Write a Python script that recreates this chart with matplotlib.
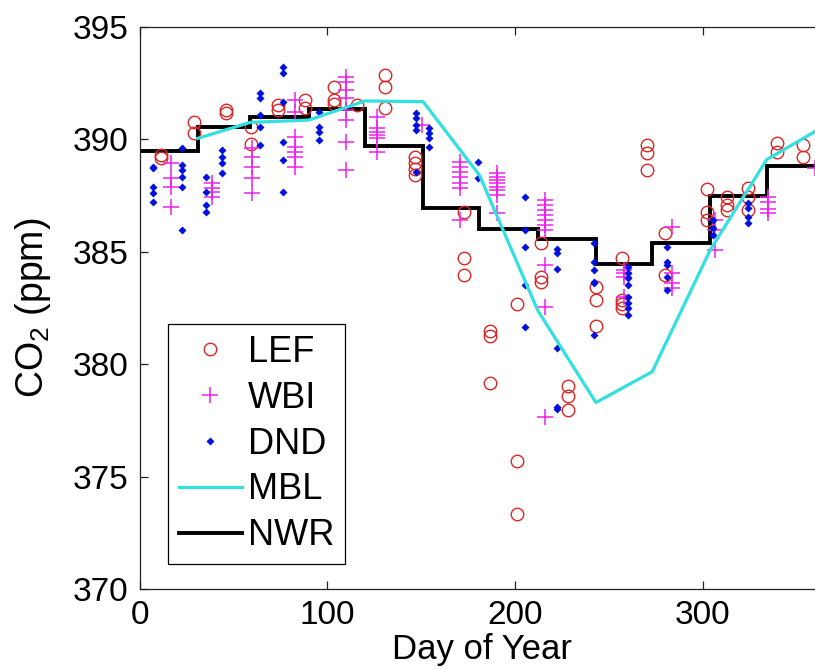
import numpy as np
import matplotlib
matplotlib.use('Agg')
import matplotlib.pyplot as plt

plt.rcParams['font.family'] = ['Liberation Sans', 'DejaVu Sans']
plt.rcParams['mathtext.fontset'] = 'custom'
plt.rcParams['mathtext.rm'] = 'Liberation Sans'

# LEF flask samples (day of year, ppm)
lef_day = [11.4, 11.4, 29.2, 29.2, 45.8, 45.8, 59.2, 59.2, 73.7, 73.7, 88.1, 88.1,
           103.4, 103.4, 103.4, 115.8, 130.7, 130.7, 130.7, 146.5, 146.5, 146.5, 146.5,
           172.8, 172.8, 172.8, 186.6, 186.6, 186.6, 200.8, 200.8, 200.8,
           214, 214, 214, 228, 228, 228, 242.8, 242.8, 242.8,
           256.8, 256.8, 256.8, 256.8, 270.1, 270.1, 270.1, 279.6, 279.6,
           302, 302, 302, 313, 313, 313, 324.2, 324.2, 324.2, 339.3, 339.3, 353.5, 353.5]
lef_co2 = [389.30, 389.15, 390.78, 390.26, 391.30, 391.15, 390.56, 389.80, 391.52, 391.30, 391.74, 391.37,
           392.33, 391.74, 391.55, 391.52, 392.85, 392.33, 391.37, 389.22, 388.93, 388.70, 388.41,
           386.75, 384.71, 383.96, 381.48, 381.25, 379.15, 382.68, 375.69, 373.34,
           385.40, 383.89, 383.67, 379.03, 378.59, 377.97, 383.44, 382.85, 381.71,
           384.71, 382.85, 382.68, 382.48, 389.74, 389.37, 388.63, 385.85, 383.96,
           387.79, 386.78, 386.41, 387.44, 387.08, 386.85, 387.82, 387.44, 386.85, 389.82, 389.44, 389.74, 389.22]

# WBI samples
wbi_day = [16.6] * 4 + [38.8] * 4 + [59.9] * 5 + [82.6] * 7 + [110] * 8 + [126.3] * 6 + [150.5] + \
          [170.4] * 7 + [190.3] * 8 + [215.9] * 10 + [258.2] * 4 + [283.4] * 4 + [306.2] * 3 + \
          [334.7] * 4 + [359.5]
wbi_co2 = [388.93, 388.26, 387.89, 387.00,
           388.04, 387.82, 387.67, 387.44,
           389.60, 389.22, 388.78, 388.26, 387.60,
           391.74, 391.22, 390.11, 389.67, 389.44, 389.22, 388.78,
           392.78, 392.56, 392.19, 391.82, 391.30, 390.85, 389.89, 388.63,
           391.00, 390.48, 390.33, 390.19, 390.04, 389.44,
           390.63,
           389.00, 388.78, 388.56, 388.33, 388.04, 387.82, 386.41,
           388.48, 388.33, 388.19, 388.04, 387.89, 387.74, 387.52, 386.71,
           387.30, 387.08, 386.85, 386.63, 386.41, 386.19, 385.96, 384.41, 382.56, 377.64,
           384.19, 384.04, 383.89, 383.00,
           386.11, 384.04, 383.60, 383.37,
           386.41, 385.96, 385.07,
           387.42, 387.22, 386.88, 386.71,
           388.71]

# DND samples
dnd_day = [7.0] * 5 + [22.6] * 6 + [35.2] * 4 + [44.0] * 4 + [64.0] * 5 + [76.6] * 6 + [95.6] * 4 + \
          [147.2] * 5 + [154.0] * 4 + [180.4] * 2 + [205.1] * 5 + [222.1] * 6 + [242.2] * 6 + \
          [260.3] * 8 + [280.7] * 5 + [305.6] * 3 + [324.2] * 4
dnd_co2 = [388.78, 388.71, 387.89, 387.60, 387.22,
           389.60, 388.85, 388.63, 388.33, 387.89, 385.96,
           388.33, 387.67, 387.08, 386.78,
           389.52, 389.22, 388.93, 388.48,
           392.04, 391.82, 391.08, 390.56, 389.74,
           393.22, 392.93, 391.67, 389.89, 389.08, 387.67,
           391.22, 390.56, 390.33, 389.96,
           391.15, 390.93, 390.63, 390.41, 388.56,
           390.48, 390.26, 390.04, 389.67,
           388.99, 388.26,
           387.44, 385.96, 385.22, 383.52, 381.67,
           385.11, 384.93, 384.22, 380.73, 378.11, 378.00,
           385.37, 384.56, 384.19, 383.67, 383.60, 381.30,
           384.33, 384.04, 383.82, 383.52, 383.00, 382.71, 382.48, 382.19,
           385.22, 384.56, 384.41, 383.89, 383.30,
           386.41, 386.04, 385.74,
           387.15, 386.93, 386.56, 386.26]

# MBL reference curve
mbl_day = [31, 59, 90, 120, 151, 181, 212, 243, 273, 304, 334, 365]
mbl_co2 = [390.04, 390.75, 390.85, 391.70, 391.67, 388.40, 382.40, 378.30, 379.67, 385.10, 389.10, 390.60]

# NWR monthly means
nwr_edges = [0, 31, 59, 90, 120, 151, 181, 212, 243, 273, 304, 334, 365]
nwr_co2 = [389.48, 390.53, 391.00, 391.34, 389.70, 386.93, 386.02, 385.55, 384.44, 385.40, 387.49, 388.82]

fig = plt.figure(figsize=(8.15, 6.7), dpi=100)
ax = fig.add_axes([0.1712, 0.1204, 0.8411, 0.8397])

ax.plot(lef_day, lef_co2, 'o', color='#dd2525', mfc='none', ms=9, mew=1.0, label='LEF')
ax.plot(wbi_day, wbi_co2, '+', color='#ee22ee', ms=11, mew=1.1, label='WBI')
ax.plot(dnd_day, dnd_co2, 'D', color='#0010dd', ms=3.6, mec='none', label='DND')
ax.plot(mbl_day, mbl_co2, '-', color='#33e0e0', lw=2.3, label='MBL')
ax.stairs(nwr_co2, nwr_edges, color='black', lw=2.8, baseline=None, label='NWR')

ax.set_xlim(0, 365)
ax.set_ylim(370, 395)
ax.set_xticks([0, 100, 200, 300])
ax.set_yticks([370, 375, 380, 385, 390, 395])
ax.tick_params(direction='in', top=True, right=True, length=6, width=0.9,
               labelsize=24, pad=8, colors='#222222', labelcolor='black')
for s in ax.spines.values():
    s.set_linewidth(0.9)
    s.set_color('#222222')

ax.set_xlabel('Day of Year', fontsize=25, labelpad=1)
ax.set_ylabel('CO$_2$ (ppm)', fontsize=27, labelpad=14)

leg = ax.legend(loc='upper left', bbox_to_anchor=(0.2061, 0.5164), bbox_transform=fig.transFigure,
                fontsize=26, frameon=True, fancybox=False, framealpha=1, edgecolor='black',
                handlelength=1.75, handletextpad=0.17, labelspacing=0.3, borderpad=0.3,
                borderaxespad=0)
leg.get_frame().set_linewidth(0.9)

fig.savefig('out.png', dpi=100)
